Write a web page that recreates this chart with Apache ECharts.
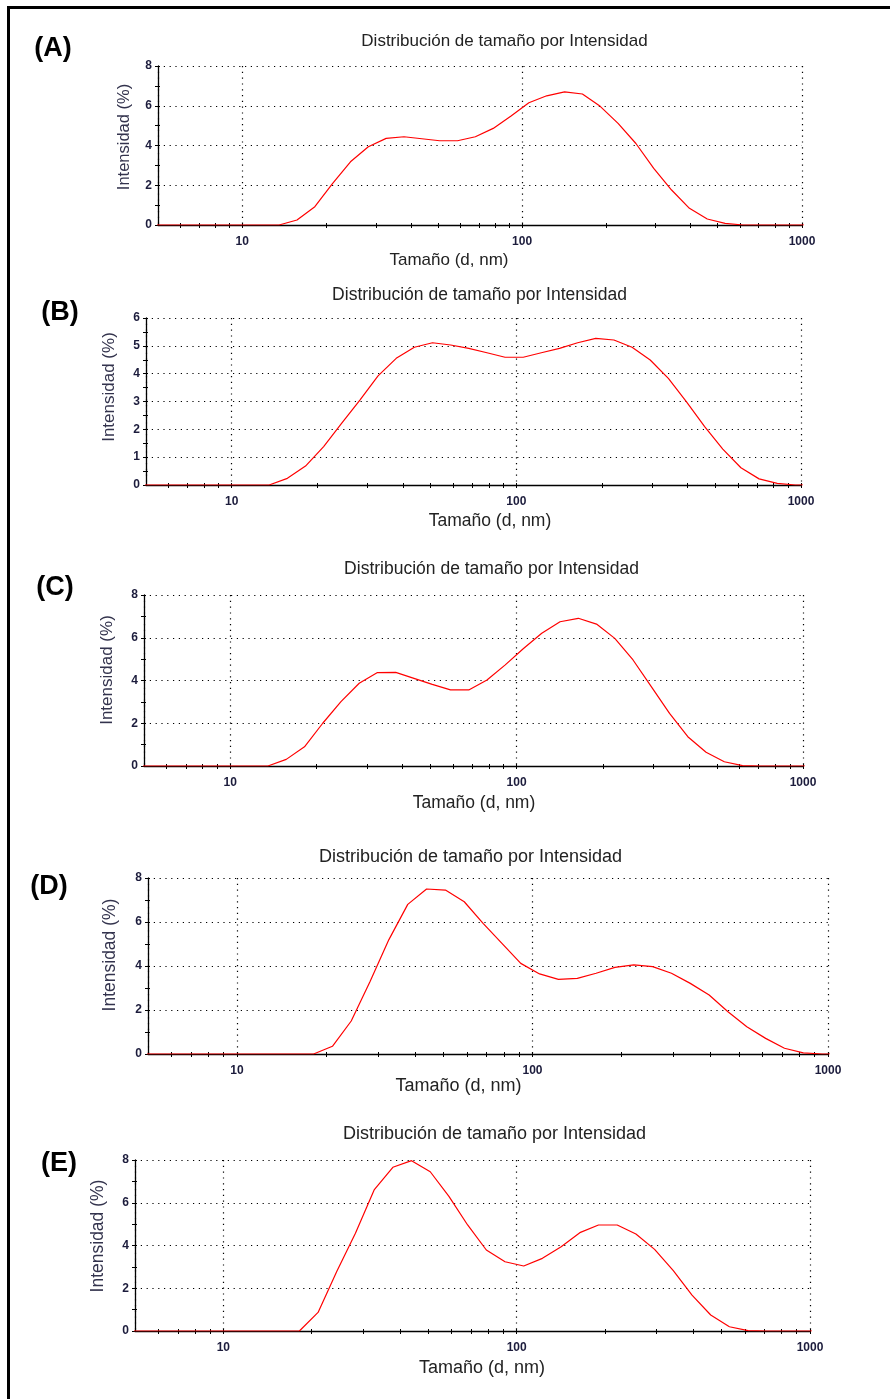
<!DOCTYPE html>
<html>
<head>
<meta charset="utf-8">
<script src="https://cdn.jsdelivr.net/npm/echarts@6/dist/echarts.min.js"></script>
<style>
html, body { margin: 0; padding: 0; background: #ffffff; }
#chart { width: 890px; height: 1399px; }
</style>
</head>
<body>
<div id="chart"></div>
<script>
// Hydrodynamic diameter bins (d, nm)
const sizes = [4.849, 5.615, 6.503, 7.531, 8.721, 10.1, 11.7, 13.54, 15.69, 18.17,
  21.04, 24.36, 28.21, 32.67, 37.84, 43.82, 50.75, 58.77, 68.06, 78.82,
  91.28, 105.7, 122.4, 141.8, 164.2, 190.1, 220.2, 255.0, 295.3, 342.0,
  396.1, 458.7, 531.2, 615.1, 712.4, 825.0, 955.4, 1106];

// Intensity (%) per bin for each sample
const intensityA = [0, 0, 0, 0, 0, 0, 0, 0, 0.25, 0.92,
  2.09, 3.18, 3.94, 4.36, 4.44, 4.34, 4.24, 4.24, 4.44, 4.86,
  5.48, 6.15, 6.50, 6.70, 6.59, 5.97, 5.11, 4.10, 2.85, 1.76,
  0.84, 0.30, 0.08, 0, 0, 0, 0, 0];
const intensityB = [0, 0, 0, 0, 0, 0, 0, 0, 0.24, 0.68,
  1.38, 2.22, 3.05, 3.92, 4.55, 4.95, 5.11, 5.03, 4.91, 4.75,
  4.59, 4.59, 4.75, 4.91, 5.11, 5.27, 5.21, 4.95, 4.49, 3.83,
  2.99, 2.10, 1.29, 0.62, 0.22, 0.06, 0, 0];
const intensityC = [0, 0, 0, 0, 0, 0, 0, 0, 0.31, 0.90,
  2.00, 3.01, 3.87, 4.37, 4.38, 4.10, 3.82, 3.56, 3.56, 4.02,
  4.73, 5.50, 6.21, 6.75, 6.91, 6.64, 5.97, 4.96, 3.71, 2.46,
  1.37, 0.64, 0.20, 0.02, 0, 0, 0, 0];
const intensityD = [0, 0, 0, 0, 0, 0, 0, 0, 0, 0,
  0.35, 1.50, 3.30, 5.20, 6.80, 7.50, 7.45, 6.92, 5.94, 5.03,
  4.12, 3.64, 3.39, 3.44, 3.67, 3.94, 4.05, 3.97, 3.67, 3.21,
  2.68, 1.92, 1.24, 0.71, 0.26, 0.05, 0, 0];
const intensityE = [0, 0, 0, 0, 0, 0, 0, 0, 0, 0,
  0.87, 2.78, 4.57, 6.60, 7.66, 7.97, 7.45, 6.30, 4.96, 3.79,
  3.24, 3.04, 3.40, 3.94, 4.60, 4.96, 4.96, 4.54, 3.82, 2.82,
  1.68, 0.75, 0.20, 0.02, 0, 0, 0, 0];

// Axis tick values and labels
const xLabelValues = [10, 100, 1000];
const xTickValues = [6, 7, 8, 9, 10, 20, 30, 40, 50, 60, 70, 80, 90,
  100, 200, 300, 400, 500, 600, 700, 800, 900, 1000];
const yMaxValues = [8, 6, 8, 8, 8];
const yStepValues = [2, 1, 2, 2, 2];

// Texts
const panelLetters = ['(A)', '(B)', '(C)', '(D)', '(E)'];
const titleText = 'Distribución de tamaño por Intensidad';
const xNameText = 'Tamaño (d, nm)';
const yNameText = 'Intensidad (%)';

const seriesValues = [intensityA, intensityB, intensityC, intensityD, intensityE];

// Panel geometry (pixels)
const layout = [
  { grid: [158, 66, 644, 159], title: [504.5, 41, 17], xName: [449, 260, 17], yName: [124, 137, 16.5], letter: [53, 49] },
  { grid: [146, 318, 655, 167], title: [479.5, 295, 17.5], xName: [490, 521, 17.5], yName: [109, 387, 17], letter: [60, 313] },
  { grid: [144, 595, 659, 171], title: [491.5, 569, 17.5], xName: [474, 803, 17.5], yName: [107, 670, 17], letter: [55, 588] },
  { grid: [148, 878, 680, 176], title: [470.5, 857, 18], xName: [458.5, 1086, 18], yName: [110, 955, 17.5], letter: [49, 887] },
  { grid: [135, 1160, 675, 171], title: [494.5, 1134, 18], xName: [482, 1368, 18], yName: [98, 1236, 17.5], letter: [59, 1164] }
];

const FONT = "'Liberation Sans', Arial, sans-serif";
const tickLabelColor = '#1c1c3c';
const dotted = [1.2, 4.6];

const grids = [], xAxes = [], yAxes = [], series = [], graphics = [];

layout.forEach((L, i) => {
  grids.push({ left: L.grid[0], top: L.grid[1], width: L.grid[2], height: L.grid[3] });

  const xBase = { type: 'log', logBase: 10, gridIndex: i, min: 5, max: 1000, position: 'bottom' };
  // main x axis: line, labels, vertical dotted grid
  xAxes.push(Object.assign({}, xBase, {
    axisLine: { show: true, onZero: false, lineStyle: { color: '#000', width: 1.3 } },
    axisTick: { show: false },
    axisLabel: { show: true, customValues: xLabelValues, fontSize: 12, fontWeight: 'bold',
      fontFamily: FONT, color: tickLabelColor, margin: 11,
      formatter: (v) => String(Math.round(v)) },
    splitLine: { show: true, lineStyle: { color: '#000', width: 1.2, type: dotted } }
  }));
  // tick marks below the axis
  xAxes.push(Object.assign({}, xBase, {
    axisLine: { show: false }, axisLabel: { show: false }, splitLine: { show: false },
    axisTick: { show: true, inside: false, length: 3, customValues: xTickValues,
      lineStyle: { color: '#000', width: 1 } }
  }));
  // tick marks above the axis
  xAxes.push(Object.assign({}, xBase, {
    axisLine: { show: false }, axisLabel: { show: false }, splitLine: { show: false },
    axisTick: { show: true, inside: true, length: 2, customValues: xTickValues,
      lineStyle: { color: '#000', width: 1 } }
  }));

  const yBase = { type: 'value', gridIndex: i, min: 0, max: yMaxValues[i], interval: yStepValues[i], position: 'left' };
  yAxes.push(Object.assign({}, yBase, {
    axisLine: { show: true, onZero: false, lineStyle: { color: '#000', width: 1.3 } },
    axisTick: { show: true, inside: false, length: 3, lineStyle: { color: '#000', width: 1 } },
    minorTick: { show: true, splitNumber: 2, length: 3, lineStyle: { color: '#000', width: 1 } },
    axisLabel: { fontSize: 12, fontWeight: 'bold', fontFamily: FONT, color: tickLabelColor, margin: 6 },
    splitLine: { show: true, lineStyle: { color: '#000', width: 1.2, type: dotted } }
  }));
  yAxes.push(Object.assign({}, yBase, {
    axisLine: { show: false }, axisLabel: { show: false }, splitLine: { show: false },
    axisTick: { show: true, inside: true, length: 2, lineStyle: { color: '#000', width: 1 } },
    minorTick: { show: true, splitNumber: 2, length: 2, lineStyle: { color: '#000', width: 1 } }
  }));

  series.push({
    type: 'line',
    xAxisIndex: 3 * i,
    yAxisIndex: 2 * i,
    data: sizes.map((s, k) => [s, seriesValues[i][k]]),
    showSymbol: false,
    symbol: 'none',
    clip: true,
    z: 5,
    lineStyle: { color: '#ff0000', width: 1.2 }
  });

  graphics.push({
    type: 'text', x: L.title[0], y: L.title[1],
    style: { text: titleText, font: L.title[2] + 'px ' + FONT, fill: '#222222', align: 'center', verticalAlign: 'middle' }
  });
  graphics.push({
    type: 'text', x: L.xName[0], y: L.xName[1],
    style: { text: xNameText, font: L.xName[2] + 'px ' + FONT, fill: '#222222', align: 'center', verticalAlign: 'middle' }
  });
  graphics.push({
    type: 'text', x: L.yName[0], y: L.yName[1], rotation: Math.PI / 2,
    style: { text: yNameText, font: L.yName[2] + 'px ' + FONT, fill: '#33334d', align: 'center', verticalAlign: 'middle' }
  });
  graphics.push({
    type: 'text', x: L.letter[0], y: L.letter[1],
    style: { text: panelLetters[i], font: 'bold 27px ' + FONT, fill: '#000', align: 'center', verticalAlign: 'middle' }
  });
});

// outer frame (left and top edges)
graphics.push({ type: 'rect', shape: { x: 7, y: 6, width: 3, height: 1393 }, style: { fill: '#000' } });
graphics.push({ type: 'rect', shape: { x: 7, y: 6, width: 883, height: 3 }, style: { fill: '#000' } });

const chart = echarts.init(document.getElementById('chart'), null, { renderer: 'canvas' });
chart.setOption({
  animation: false,
  backgroundColor: '#ffffff',
  grid: grids,
  xAxis: xAxes,
  yAxis: yAxes,
  series: series,
  graphic: graphics
});
</script>
</body>
</html>
